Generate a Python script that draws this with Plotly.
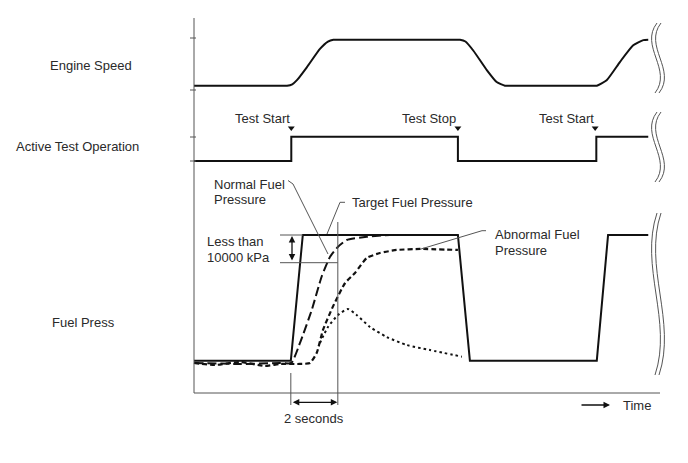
import plotly.graph_objects as go

# ---------------- data (time in seconds, signals normalised 0..1) ----------------
engine_t = [0, 3.5, 3.80, 3.96, 4.18, 4.38, 4.80, 5.36, 5.70, 5.93, 6.15, 6.5,
            10.8, 11.10, 11.32, 11.55, 11.89, 12.46, 12.88, 13.23, 13.45, 13.8,
            16.6, 16.92, 17.14, 17.56, 18.13, 18.69, 19.12, 19.33]
engine_v = [0, 0, 0, 0, 0.03, 0.12, 0.40, 0.80, 0.96, 1, 1, 1,
            1, 1, 1, 0.96, 0.76, 0.34, 0.08, 0, 0, 0,
            0, 0, 0, 0.12, 0.52, 0.88, 0.99, 1.0]

active_t = [0, 4.14, 11.23, 17.12, 19.33]
active_v = [0, 1, 0, 1, 1]
test_marks_t = [4.14, 11.23, 17.07]
test_marks_label = ["Test Start", "Test Stop", "Test Start"]

target_t = [0, 4.12, 4.63, 11.23, 11.74, 17.14, 17.62, 19.33]
target_v = [0, 0, 1, 1, 0, 0, 1, 1]

normal_t = [0, 1.96, 3.66, 4.14, 4.51, 5.01, 5.43, 5.79, 6.13, 6.50, 7.35, 8.34, 9.0]
normal_v = [-0.018, -0.026, -0.018, -0.018, 0.141, 0.403, 0.668, 0.827, 0.907, 0.960, 0.986, 1.0, 1.0]

abnormal_t = [0, 0.89, 1.96, 3.02, 3.66, 4.51, 4.94, 5.22, 5.49, 5.91, 6.43, 6.85, 7.35, 7.91,
              8.62, 9.62, 11.23]
abnormal_v = [-0.018, -0.034, -0.010, -0.042, -0.026, -0.026, -0.018, 0.061, 0.245, 0.430,
              0.618, 0.698, 0.817, 0.857, 0.881, 0.889, 0.881]

dotted_t = [5.36, 5.70, 6.13, 6.55, 6.92, 7.49, 8.20, 9.05, 10.04, 11.40]
dotted_v = [0.141, 0.268, 0.364, 0.411, 0.364, 0.268, 0.189, 0.125, 0.085, 0.032]

two_sec = [4.12, 6.12]

# ---------------- layout helpers (pixel anchors) ----------------
W, H = 688, 463
PXS = 23.5          # pixels per second
X0 = 194            # pixel of t = 0


def yrange(p0, p1):
    s = p0 - p1
    r1 = p0 / s
    return [r1 - H / s, r1]


def tx(t):
    return X0 + t * PXS


FONT = dict(family="Liberation Sans, Arial, sans-serif", size=13, color="#2a2a2a")
BLK = "#111"
GRY = "#555"

fig = go.Figure()

# engine speed
fig.add_trace(go.Scatter(x=engine_t, y=engine_v, mode="lines", yaxis="y",
                         line=dict(color=BLK, width=2, shape="spline", smoothing=0.5)))
# active test
fig.add_trace(go.Scatter(x=active_t, y=active_v, mode="lines", yaxis="y2",
                         line=dict(color=BLK, width=2, shape="hv")))
fig.add_trace(go.Scatter(x=test_marks_t, y=[1.36] * 3, mode="markers", yaxis="y2",
                         marker=dict(symbol="triangle-down", size=6, color=BLK)))
# fuel pressure
fig.add_trace(go.Scatter(x=target_t, y=target_v, mode="lines", yaxis="y3",
                         line=dict(color=BLK, width=2)))
fig.add_trace(go.Scatter(x=normal_t, y=normal_v, mode="lines", yaxis="y3",
                         line=dict(color=BLK, width=2, dash="9px,4px", shape="spline", smoothing=0.5)))
fig.add_trace(go.Scatter(x=abnormal_t, y=abnormal_v, mode="lines", yaxis="y3",
                         line=dict(color=BLK, width=2.2, dash="5px,3px", shape="spline", smoothing=0.5)))
fig.add_trace(go.Scatter(x=dotted_t, y=dotted_v, mode="lines", yaxis="y3",
                         line=dict(color=BLK, width=2, dash="2.5px,3px", shape="spline", smoothing=0.6)))
# dummy trace for the pixel overlay axes
fig.add_trace(go.Scatter(x=[0], y=[0], xaxis="x2", yaxis="y4", mode="markers",
                         marker=dict(size=0.1, opacity=0)))

shapes = []


def line(x0, y0, x1, y1, color=GRY, width=1):
    shapes.append(dict(type="line", xref="x2", yref="y4", x0=x0, y0=y0, x1=x1, y1=y1,
                       line=dict(color=color, width=width)))


# frame
line(194, 18, 194, 393)
line(194, 393, 660, 393)
for yy in (38, 90, 137, 161):
    line(190, yy, 196, yy)

# 10000 kPa band helpers
line(280, 235, 303, 235)
line(280, 262.7, 337.7, 262.7)
x2s = tx(two_sec[1])
x1s = tx(two_sec[0])
line(x2s, 222, x2s, 405)
line(x1s, 373, x1s, 405)

# leader lines
line(288, 180.5, 293, 184)
line(293, 184, 328, 254)
line(340, 202.3, 345, 202.3)
line(340, 202.3, 327, 234)
line(482, 230.7, 486, 230.7)
line(482, 230.7, 420, 249.3)

# break symbols
for ya, yb in ((23, 93), (112, 182), (213, 375)):
    h = yb - ya
    for off in (0, 4):
        shapes.append(dict(type="path", xref="x2", yref="y4",
                           path=f"M {657+off},{ya} C {639+off},{ya+0.33*h} {673+off},{yb-0.33*h} {655+off},{yb}",
                           line=dict(color=GRY, width=1)))

annotations = []


def text(x, y, s, anchor="left"):
    annotations.append(dict(x=x, y=y, xref="x2", yref="y4", text=s, showarrow=False,
                            xanchor=anchor, yanchor="middle", font=FONT))


def arrow(x, y, axp, ayp, both=False, head=2):
    annotations.append(dict(x=x, y=y, ax=axp, ay=ayp, xref="x2", yref="y4", axref="x2", ayref="y4",
                            text="", showarrow=True, arrowhead=head, startarrowhead=head,
                            arrowsize=1, startarrowsize=1, arrowwidth=1.3, arrowcolor=BLK,
                            arrowside="end+start" if both else "end"))


text(91, 65, "Engine Speed", "center")
text(77.5, 146, "Active Test Operation", "center")
text(83, 322, "Fuel Press", "center")
for t, lab in zip(test_marks_t, test_marks_label):
    text(tx(t) - 29, 118, lab, "center")
text(212, 184, "Normal Fuel")
text(212, 199.5, "Pressure")
text(350, 202, "Target Fuel Pressure")
text(493, 234, "Abnormal Fuel")
text(493, 250, "Pressure")
text(205, 241.7, "Less than")
text(205, 257.3, "10000 kPa")
text((x1s + x2s) / 2, 418, "2 seconds", "center")
text(621, 405, "Time")

arrow(292, 236, 292, 262, both=True)
arrow(x2s - 0.5, 402.3, x1s + 0.5, 402.3, both=True)
arrow(610, 405, 580, 405)

fig.update_layout(
    width=W, height=H, margin=dict(l=0, r=0, t=0, b=0),
    paper_bgcolor="white", plot_bgcolor="white", showlegend=False, hovermode=False,
    xaxis=dict(range=[-X0 / PXS, (W - X0) / PXS], visible=False, domain=[0, 1]),
    xaxis2=dict(range=[0, W], visible=False, overlaying="x"),
    yaxis=dict(range=yrange(85.7, 39.7), visible=False, domain=[0, 1]),
    yaxis2=dict(range=yrange(161, 136.7), visible=False, overlaying="y"),
    yaxis3=dict(range=yrange(360.7, 235), visible=False, overlaying="y"),
    yaxis4=dict(range=[H, 0], visible=False, overlaying="y", anchor="x2"),
    shapes=shapes, annotations=annotations,
)

fig.write_html("out.html", config=dict(displayModeBar=False))
